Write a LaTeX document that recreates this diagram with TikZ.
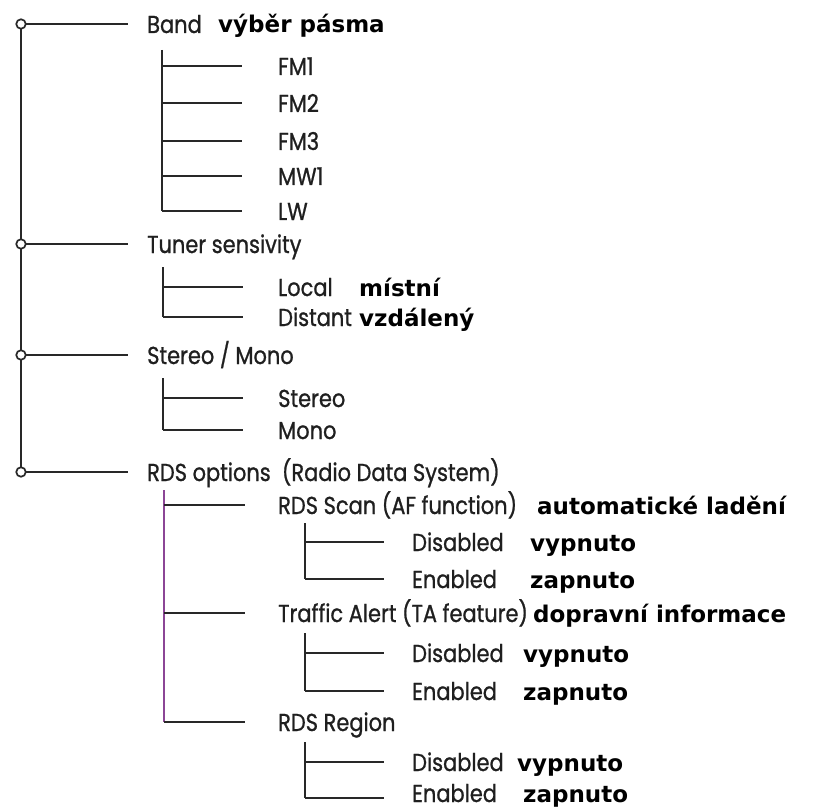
\documentclass[tikz,border=0pt]{standalone}
\usepackage{fontspec}
\newfontfamily\engfont[FakeStretch=0.855,FakeBold=0.9]{Poppins}
\newfontfamily\czfont{DejaVu Sans}
\definecolor{linegray}{RGB}{40,40,40}
\definecolor{rdspurple}{RGB}{140,70,150}
\tikzset{
  en/.style={font=\engfont\fontsize{24.5}{24.5}\selectfont, text=black!88, inner sep=0pt, anchor=base west},
  cz/.style={font=\czfont\bfseries\fontsize{23}{23}\selectfont, text=black, inner sep=0pt, anchor=base west},
  mainline/.style={draw=linegray, line width=2.2pt},
  branch/.style={draw=linegray, line width=1.9pt},
  purpleline/.style={draw=rdspurple, line width=2pt},
  knob/.style={circle, draw=linegray, fill=white, line width=1.7pt, minimum size=9.5pt, inner sep=0pt}
}
\begin{document}
\begin{tikzpicture}[x=1pt,y=-1pt]
\useasboundingbox[fill=white] (0,0) rectangle (813,810);

% ---------- main spine ----------
\coordinate (m1) at (21,24);
\coordinate (m2) at (21,244);
\coordinate (m3) at (21,355);
\coordinate (m4) at (21,472);
\draw[mainline] (m1) -- (m4);
\coordinate (h1) at (128,24);
\coordinate (h2) at (128,244);
\coordinate (h3) at (128,355);
\coordinate (h4) at (128,472);
\foreach \i in {1,2,3,4} \draw[branch] (m\i) -- (h\i);
\foreach \i in {1,2,3,4} \node[knob] (k\i) at (m\i) {};

% ---------- level 1 texts ----------
\node[en] (band) at (147,33) {Band};
\node[cz] (bandcz) at (218,33) {výběr pásma};
\node[en] (tuner) at (147,253) {Tuner sensivity};
\node[en] (stereomono) at (147,364) {Stereo / Mono};
\node[en] (rds) at (147,481) {RDS options\ \ (Radio Data System)};

% ---------- Band ----------
\coordinate (bv0) at (162,50);
\coordinate (bv5) at (162,211);
\draw[branch] (bv0) -- (bv5);
\foreach \n/\y/\t in {1/66/FM1,2/103/FM2,3/141/FM3,4/176/MW1,5/211/LW}{
  \coordinate (bj\n) at (162,\y);
  \coordinate (be\n) at (242,\y);
  \draw[branch] (bj\n) -- (be\n);
  \node[en] (bt\n) at (278,\y+9) {\t};
}

% ---------- Tuner ----------
\coordinate (tv0) at (163,267);
\coordinate (tj1) at (163,287);
\coordinate (tj2) at (163,317);
\coordinate (te1) at (243,287);
\coordinate (te2) at (243,317);
\draw[branch] (tv0) -- (tj2);
\draw[branch] (tj1) -- (te1);
\draw[branch] (tj2) -- (te2);
\node[en] (local) at (278,296) {Local};
\node[cz] (localcz) at (359,296) {místní};
\node[en] (distant) at (278,326) {Distant};
\node[cz] (distantcz) at (359,326) {vzdálený};

% ---------- Stereo / Mono ----------
\coordinate (sv0) at (163,378);
\coordinate (sj1) at (163,398);
\coordinate (sj2) at (163,430);
\coordinate (se1) at (243,398);
\coordinate (se2) at (243,430);
\draw[branch] (sv0) -- (sj2);
\draw[branch] (sj1) -- (se1);
\draw[branch] (sj2) -- (se2);
\node[en] (stereo) at (278,407) {Stereo};
\node[en] (mono) at (278,439) {Mono};

% ---------- RDS options ----------
\coordinate (rv0) at (164,490);
\coordinate (rj1) at (164,505);
\coordinate (rj2) at (164,613);
\coordinate (rj3) at (164,722);
\coordinate (re1) at (245,505);
\coordinate (re2) at (245,613);
\coordinate (re3) at (245,722);
\draw[purpleline] (rv0) -- (rj3);
\draw[branch] (rj1) -- (re1);
\draw[branch] (rj2) -- (re2);
\draw[branch] (rj3) -- (re3);
\node[en] (scan) at (278,514) {RDS Scan (AF function)};
\node[cz] (scancz) at (537,514) {automatické ladění};
\node[en] (ta) at (278,622) {Traffic Alert (TA feature)};
\node[cz] (tacz) at (533,622) {dopravní informace};
\node[en] (region) at (278,731) {RDS Region};

% ---------- RDS Scan sub ----------
\coordinate (av0) at (305,523);
\coordinate (aj1) at (305,542);
\coordinate (aj2) at (305,579);
\coordinate (ae1) at (384,542);
\coordinate (ae2) at (384,579);
\draw[branch] (av0) -- (aj2);
\draw[branch] (aj1) -- (ae1);
\draw[branch] (aj2) -- (ae2);
\node[en] (adis) at (412,551) {Disabled};
\node[cz] (adiscz) at (530,551) {vypnuto};
\node[en] (aen) at (412,588) {Enabled};
\node[cz] (aencz) at (530,588) {zapnuto};

% ---------- Traffic Alert sub ----------
\coordinate (fv0) at (305,633);
\coordinate (fj1) at (305,653);
\coordinate (fj2) at (305,691);
\coordinate (fe1) at (384,653);
\coordinate (fe2) at (384,691);
\draw[branch] (fv0) -- (fj2);
\draw[branch] (fj1) -- (fe1);
\draw[branch] (fj2) -- (fe2);
\node[en] (fdis) at (412,662) {Disabled};
\node[cz] (fdiscz) at (523,662) {vypnuto};
\node[en] (fen) at (412,700) {Enabled};
\node[cz] (fencz) at (523,700) {zapnuto};

% ---------- RDS Region sub ----------
\coordinate (gv0) at (305,742);
\coordinate (gj1) at (305,762);
\coordinate (gj2) at (305,798);
\coordinate (ge1) at (384,762);
\coordinate (ge2) at (384,798);
\draw[branch] (gv0) -- (gj2);
\draw[branch] (gj1) -- (ge1);
\draw[branch] (gj2) -- (ge2);
\node[en] (gdis) at (412,771) {Disabled};
\node[cz] (gdiscz) at (517,771) {vypnuto};
\node[en] (gen) at (412,802) {Enabled};
\node[cz] (gencz) at (523,802) {zapnuto};
\end{tikzpicture}
\end{document}
